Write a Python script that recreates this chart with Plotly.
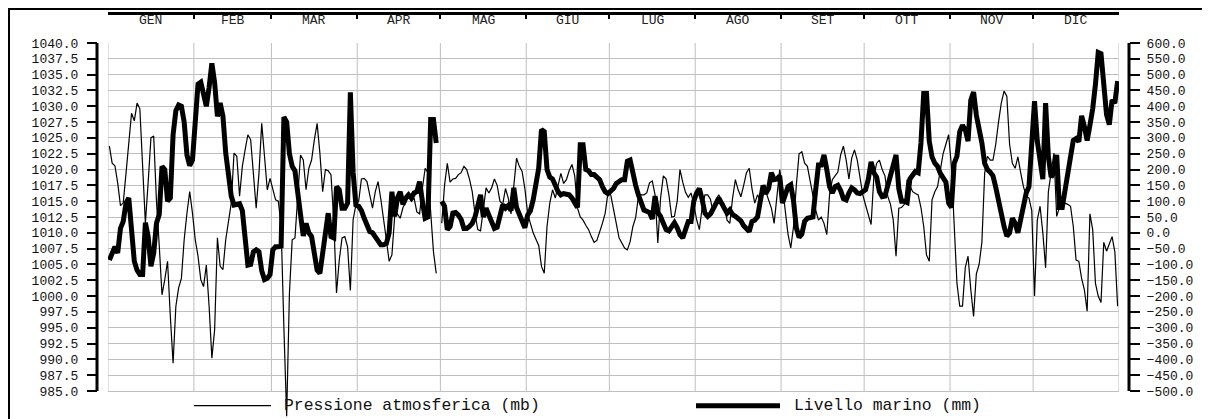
import plotly.graph_objects as go

# ---------------- data ----------------
MONTHS = ["GEN", "FEB", "MAR", "APR", "MAG", "GIU", "LUG", "AGO", "SET", "OTT", "NOV", "DIC"]
MONTH_DAYS = [31, 28, 31, 30, 31, 30, 31, 31, 30, 31, 30, 31]
SERIES_NAMES = ["Pressione atmosferica (mb)", "Livello marino (mm)"]

P_TICKS = [985.0, 987.5, 990.0, 992.5, 995.0, 997.5, 1000.0, 1002.5, 1005.0, 1007.5, 1010.0,
           1012.5, 1015.0, 1017.5, 1020.0, 1022.5, 1025.0, 1027.5, 1030.0, 1032.5, 1035.0,
           1037.5, 1040.0]
L_TICKS = [-500, -450, -400, -350, -300, -250, -200, -150, -100, -50, 0, 50, 100, 150, 200,
           250, 300, 350, 400, 450, 500, 550, 600]

# daily atmospheric pressure (mb), day 0 = 1 Jan; None = missing
pressure = [
    1023.7, 1021.0, 1020.6, 1017.9, 1014.3, 1014.7, 1019.4, 1024.7, 1028.9, 1027.7,
    1030.5, 1029.6, 1020.0, 1011.5, 1018.0, 1025.0, 1025.3, 1015.0, 1008.0, 1000.2,
    1002.6, 1005.5, 996.8, 989.4, 998.4, 1001.3, 1002.8, 1008.9, 1013.1, 1016.5,
    1013.1, 1008.9, 1006.3, 1002.6, 1001.5, 1004.9, 998.4, 990.2, 994.7, 1009.2,
    1004.7, 1004.2, 1008.9, 1012.1, 1014.7, 1022.6, 1022.1, 1015.8, 1020.5, 1023.1,
    1025.5, 1024.7, 1019.4, 1013.9, 1019.4, 1027.3, 1022.1, 1016.8, 1018.6, 1016.8,
    1015.2, 1015.0, 1011.0, 995.0, 981.0, 1000.5, 1008.9, 1009.2, 1015.8, 1022.3,
    1021.5, 1016.8, 1020.2, 1021.5, 1024.7, 1027.3, 1022.6, 1016.5, 1020.0, 1019.8,
    1019.2, 1012.0, 1000.5, 1005.7, 1009.2, 1009.4, 1007.8, 1000.9, 1012.1, 1014.4,
    1015.0, 1018.5, 1018.6, 1018.1, 1016.0, 1013.9, 1016.5, 1018.1, 1015.3, 1012.4,
    1008.9, 1005.5, 1006.5, 1012.6, 1013.0, 1012.3, 1014.0, 1014.8, 1016.0, 1015.0,
    1015.5, 1013.3, 1013.0, 1017.0, 1020.2, 1019.5, 1013.0, 1007.0, 1003.6, None,
    1011.5, 1017.5, 1021.0, 1018.0, 1018.5, 1018.6, 1019.2, 1019.5, 1020.5, 1020.0,
    1018.5, 1016.5, 1013.0, 1010.5, 1010.3, 1013.5, 1017.1, 1016.3, 1017.1, 1018.5,
    1017.5, 1015.0, 1014.5, 1017.0, 1015.5, 1013.0, 1017.0, 1021.8, 1020.5, 1019.7,
    1017.0, 1013.1, 1011.5, 1010.0, 1009.0, 1008.0, 1004.7, 1003.6, 1011.0, 1014.7,
    1016.8, 1015.5, 1017.5, 1019.4, 1017.8, 1018.4, 1019.8, 1020.8, 1019.0, 1013.9,
    1012.5, 1012.0, 1011.2, 1010.5, 1009.4, 1008.5, 1008.8, 1010.0, 1011.5, 1013.1,
    1016.3, 1016.0, 1013.5, 1011.5, 1009.2, 1008.4, 1007.6, 1007.3, 1008.6, 1011.0,
    1012.4, 1015.8, 1016.0, 1016.0, 1016.3, 1017.9, 1018.2, 1016.0, 1008.4, 1015.5,
    1019.0, 1018.5, 1016.0, 1012.5, 1012.6, 1015.0, 1020.0, 1018.0, 1016.4, 1015.6,
    1016.3, 1014.5, 1012.1, 1010.5, 1014.0, 1016.0, 1016.0, 1015.3, 1013.1, 1015.2,
    1016.0, 1015.0, 1014.5, 1012.0, 1011.5, 1015.5, 1018.4, 1016.8, 1015.7, 1017.5,
    1019.5, 1020.2, 1017.0, 1014.7, 1016.0, 1015.2, 1016.0, 1016.5, 1015.3, 1013.9,
    1011.5, 1016.0, 1020.0, 1017.3, 1013.0, 1009.8, 1007.6, 1011.0, 1017.5, 1022.5,
    1022.8, 1021.0, 1020.5, 1018.0, 1016.0, 1013.6, 1012.0, 1012.5, 1011.5, 1009.7,
    1016.0, 1018.4, 1019.0, 1019.6, 1022.3, 1023.7, 1021.5, 1018.5, 1021.8, 1023.1,
    1021.5, 1018.5, 1016.0, 1014.4, 1012.6, 1011.3, 1018.9, 1021.0, 1021.5, 1020.0,
    1019.0, 1015.8, 1014.5, 1012.0, 1006.3, 1013.9, 1014.0, 1014.5, 1018.4, 1017.5,
    1016.5, 1016.2, 1016.0, 1014.0, 1011.0, 1006.5, 1005.5, 1015.2, 1016.5, 1017.3,
    1020.0, 1022.5, 1024.0, 1025.5, 1020.5, 1011.0, 1002.0, 998.4, 998.4, 1004.5,
    1006.3, 1001.0, 996.8, 1003.5, 1005.0, 1008.5, 1019.4, 1022.1, 1021.5, 1021.5,
    1024.0, 1027.5, 1030.5, 1032.4, 1031.6, 1024.0, 1021.0, 1020.2, 1022.0, 1019.5,
    1017.3, 1015.8, 1015.5, 1013.5, 1000.0, 1012.0, 1014.2, 1010.0, 1004.5, 1016.5,
    1020.0, 1022.6, 1012.6, 1014.0, 1014.4, 1014.7, 1014.5, 1014.2, 1011.0, 1005.7,
    1005.5, 1002.8, 1001.0, 997.6, 1013.0, 1010.5, 1002.0, 1000.0, 999.0, 1008.5,
    1007.1, 1008.4, 1009.4, 1007.0, 998.4,
]

# daily sea level (mm)
sea_level = [
    -86, -64, -44, -64, 14, 36, 94, 110, -12, -90,
    -118, -132, -132, 32, -12, -106, -64, 30, 58, 210,
    200, 100, 110, 310, 386, 404, 400, 350, 246, 212,
    230, 330, 470, 476, 430, 400, 460, 536, 474, 368,
    410, 368, 252, 180, 116, 88, 90, 92, 70, -10,
    -102, -100, -60, -54, -60, -120, -148, -144, -132, -54,
    -44, -44, -42, 366, 350, 250, 210, 196, 120, 60,
    -10, 30, 0, -12, -60, -118, -128, -64, 0, 62,
    -12, -16, 146, 136, 78, 78, 94, 444, 190, 88,
    84, 70, 46, 20, 4, 0, -12, -22, -38, -38,
    -34, 0, 130, 52, 110, 130, 90, 110, 120, 110,
    126, 130, 162, 100, 46, 50, 358, 358, 284, None,
    100, 84, 10, 20, 62, 64, 56, 42, 14, 14,
    20, 30, 50, 90, 120, 50, 78, 56, 36, 14,
    18, 58, 88, 78, 86, 70, 142, 80, 58, 46,
    16, 56, 70, 104, 160, 204, 326, 320, 200, 176,
    170, 146, 130, 120, 124, 122, 120, 110, 94, 80,
    278, 278, 200, 196, 184, 184, 176, 168, 146, 130,
    124, 132, 140, 156, 164, 168, 168, 226, 230, 180,
    150, 120, 94, 72, 68, 64, 44, 116, 64, 52,
    30, 10, 6, 20, 32, 16, -6, -16, 6, 36,
    36, 100, 126, 140, 106, 62, 52, 60, 76, 94,
    110, 94, 78, 62, 72, 58, 52, 42, 38, 22,
    12, 4, 36, 40, 50, 100, 150, 124, 140, 190,
    168, 170, 180, 94, 116, 146, 152, 100, 16, -14,
    -4, 36, 46, 50, 50, 136, 214, 214, 246, 200,
    146, 126, 146, 150, 134, 108, 104, 126, 142, 136,
    126, 124, 130, 136, 170, 224, 190, 176, 130, 114,
    116, 146, 180, 220, 246, 140, 100, 100, 96, 170,
    180, 194, 190, 284, 440, 440, 290, 240, 220, 210,
    188, 176, 160, 94, 80, 220, 242, 320, 340, 326,
    290, 420, 445, 372, 330, 284, 220, 200, 192, 180,
    144, 100, 52, 20, -10, 0, 46, 30, 0, 40,
    94, 126, 146, 280, 416, 290, 224, 170, 410, 240,
    176, 190, 246, 80, 80, 140, 188, 240, 292, 298,
    288, 370, 336, 292, 340, 392, 470, 570, 566, 470,
    374, 342, 420, 410, 480,
]

days = list(range(len(pressure)))

# ---------------- geometry helpers ----------------
# The page body has a default 8px margin, so the figure is placed 8px
# right/down in the window; all layout positions below are given in window
# pixels and converted to figure coordinates.
OFF = 8
W, H = 1210 - OFF, 419 - OFF
PLOT_L, PLOT_R, PLOT_T, PLOT_B = 108, 1119, 43, 391     # window px
AX_L, AX_R, AX_TOP = 97, 1129, 13                          # window px
ML = AX_L - OFF
MR = W - (AX_R - OFF)
MT = AX_TOP - OFF
MB = 0
PW, PH = W - ML - MR, H - MT - MB


def px2x(px):
    return (px - OFF - ML) / PW


def px2y(py):
    return (H - MB - (py - OFF)) / PH


P_MIN, P_MAX = P_TICKS[0], P_TICKS[-1]
L_MIN, L_MAX = L_TICKS[0], L_TICKS[-1]
p_per_px = (P_MAX - P_MIN) / (PLOT_B - PLOT_T)
l_per_px = (L_MAX - L_MIN) / (PLOT_B - PLOT_T)
p_low = P_MIN - (419 - PLOT_B) * p_per_px
l_low = L_MIN - (419 - PLOT_B) * l_per_px

FONT = "Courier New, Liberation Mono, monospace"
GRID = "#bfbfbf"

fig = go.Figure()
fig.add_trace(go.Scatter(x=days, y=pressure, mode="lines", name=SERIES_NAMES[0],
                         line=dict(color="black", width=1.2), connectgaps=False,
                         yaxis="y", xaxis="x"))
fig.add_trace(go.Scatter(x=days, y=sea_level, mode="lines", name=SERIES_NAMES[1],
                         line=dict(color="black", width=5), connectgaps=False,
                         yaxis="y2", xaxis="x"))
# dummy trace so the top month axis is rendered
fig.add_trace(go.Scatter(x=[None], y=[None], xaxis="x2", yaxis="y", showlegend=False,
                         hoverinfo="skip"))

# month boundaries
bounds = [-0.5]
for d in MONTH_DAYS:
    bounds.append(bounds[-1] + d)
centers = [(bounds[i] + bounds[i + 1]) / 2 for i in range(len(MONTHS))]

xdom = [px2x(PLOT_L), px2x(PLOT_R)]
ydom = [0, px2y(PLOT_T)]

shapes = []
# vertical grid lines + plot border sides
for b in bounds:
    shapes.append(dict(type="line", xref="x", yref="y", x0=b, x1=b, y0=P_MIN, y1=P_MAX,
                       line=dict(color=GRID, width=1), layer="below"))
# left & right axis lines
shapes.append(dict(type="line", xref="paper", yref="y", x0=0, x1=0, y0=P_MIN, y1=P_MAX,
                   line=dict(color="black", width=3)))
shapes.append(dict(type="line", xref="paper", yref="y", x0=1, x1=1, y0=P_MIN, y1=P_MAX,
                   line=dict(color="black", width=3)))
# outer frame (left/top kept just inside the figure)
fl, fr, ft, fb = px2x(OFF + 1), px2x(1204), px2y(OFF + 1), px2y(440)
shapes.append(dict(type="path", xref="paper", yref="paper",
                   path=f"M {fl} {fb} L {fl} {ft} L {fr} {ft} L {fr} {fb}",
                   line=dict(color="black", width=2)))
# legend samples
ly = px2y(405.7)
shapes.append(dict(type="line", xref="paper", yref="paper", x0=px2x(194), x1=px2x(271),
                   y0=ly, y1=ly, line=dict(color="black", width=1.3)))
shapes.append(dict(type="line", xref="paper", yref="paper", x0=px2x(696), x1=px2x(780),
                   y0=ly, y1=ly, line=dict(color="black", width=5)))

annotations = []
for m, c in zip(MONTHS, centers):
    annotations.append(dict(x=c, xref="x", y=px2y(20), yref="paper", text=m,
                            showarrow=False, xanchor="center", yanchor="middle",
                            font=dict(family=FONT, size=13, color="#222")))
annotations.append(dict(x=px2x(282), xref="paper", y=ly, yref="paper", text=SERIES_NAMES[0],
                        showarrow=False, xanchor="left", yanchor="middle",
                        font=dict(family=FONT, size=16.4, color="#111")))
annotations.append(dict(x=px2x(792), xref="paper", y=ly, yref="paper", text=SERIES_NAMES[1],
                        showarrow=False, xanchor="left", yanchor="middle",
                        font=dict(family=FONT, size=16.4, color="#111")))

fig.update_layout(
    width=W, height=H,
    margin=dict(l=ML, r=MR, t=MT, b=MB, pad=0),
    paper_bgcolor="white", plot_bgcolor="white",
    showlegend=False,
    font=dict(family=FONT, size=13, color="#111"),
    xaxis=dict(domain=xdom, range=[-0.5, len(days) - 0.5], showgrid=False, zeroline=False,
               showticklabels=False, ticks="", showline=False, fixedrange=True),
    xaxis2=dict(domain=xdom, range=[-0.5, len(days) - 0.5], overlaying="x", side="top",
                anchor="free", position=1, showgrid=False, zeroline=False,
                showticklabels=False, tickmode="array", tickvals=bounds, ticks="inside",
                ticklen=4, tickwidth=2, tickcolor="black", showline=True, linecolor="black",
                linewidth=2.5),
    yaxis=dict(domain=ydom, range=[p_low, P_MAX], anchor="free", position=0,
               tickmode="array", tickvals=P_TICKS, tickformat=".1f",
               ticks="outside", ticklen=10, tickwidth=2, tickcolor="black",
               ticklabelstandoff=6,
               showgrid=True, gridcolor=GRID, gridwidth=1, zeroline=False, showline=False,
               tickfont=dict(family=FONT, size=13, color="#111")),
    yaxis2=dict(domain=ydom, range=[l_low, L_MAX], anchor="free", position=1,
                overlaying="y", side="right",
                tickmode="array", tickvals=L_TICKS, tickformat=".1f",
                ticks="outside", ticklen=10, tickwidth=2, tickcolor="black",
                ticklabelstandoff=4,
                showgrid=False, zeroline=False, showline=False,
                tickfont=dict(family=FONT, size=13, color="#111")),
    shapes=shapes,
    annotations=annotations,
)

fig.write_html("out.html")
